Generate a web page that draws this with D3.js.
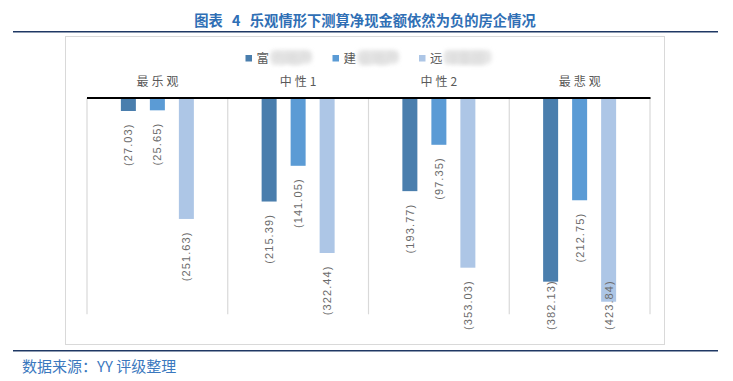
<!DOCTYPE html>
<html><head><meta charset="utf-8">
<script src="https://cdn.jsdelivr.net/npm/d3@7"></script>
<style>body{margin:0;background:#fff;}svg{display:block;}</style>
</head><body>
<svg id="c" width="733" height="381"></svg>
<script>
const title = "图表 4 乐观情形下测算净现金额依然为负的房企情况";
const source = "数据来源：YY 评级整理";
const categories = ["最乐观", "中性1", "中性2", "最悲观"];
const seriesNames = ["富力地产", "建业地产", "远洋集团"];
const seriesFu = [27.03, 215.39, 193.77, 382.13];
const seriesJian = [25.65, 141.05, 97.35, 212.75];
const seriesYuan = [251.63, 322.44, 353.03, 423.84];
const colors = ["#4a7ead", "#5b9bd5", "#adc6e6"];
const yDomain = [-450, 0];

const series = [seriesFu, seriesJian, seriesYuan];
const svg = d3.select("#c");
const cjk = "'Noto Sans CJK SC','Noto Sans',sans-serif";

// title
svg.append("text").attr("x", 365).attr("y", 26).attr("text-anchor", "middle")
  .attr("font-family", cjk).attr("font-size", 14.3).attr("font-weight", "bold")
  .attr("word-spacing", "6px").style("white-space", "pre")
  .attr("fill", "#2f6fb5").text(title);
svg.append("line").attr("x1", 13).attr("x2", 718).attr("y1", 31.7).attr("y2", 31.7)
  .attr("stroke", "#1f3864").attr("stroke-width", 1.5);
// chart box
svg.append("rect").attr("x", 65.5).attr("y", 36.5).attr("width", 599).attr("height", 308)
  .attr("fill", "#fff").attr("stroke", "#d9d9d9").attr("stroke-width", 1);
// bottom line & source
svg.append("line").attr("x1", 13).attr("x2", 718).attr("y1", 350.7).attr("y2", 350.7)
  .attr("stroke", "#1f3864").attr("stroke-width", 1.5);
svg.append("text").attr("x", 22).attr("y", 371.5)
  .attr("font-family", cjk).attr("font-size", 15).attr("fill", "#3a78be").text(source);

// scales
const x = d3.scaleBand().domain(categories).range([87, 650]).padding(0);
const bw = x.bandwidth();
const xs = d3.scaleBand().domain(d3.range(3))
  .range([bw / 2 - 43.5, bw / 2 + 43.5]).paddingInner(14 / 29).paddingOuter(7 / 29);
const y = d3.scaleLinear().domain(yDomain).range([314.3, 98]);

// separators
const seps = [...categories.map(c => x(c)), x.range()[1]];
svg.append("g").selectAll("line").data(seps).join("line")
  .attr("x1", d => d).attr("x2", d => d).attr("y1", y(0)).attr("y2", y(yDomain[0]))
  .attr("stroke", "#d9d9d9").attr("stroke-width", 1.2);

// category labels (axis at top)
const axis = d3.axisTop(x).tickSize(0).tickPadding(0);
const ag = svg.append("g").attr("transform", "translate(0,86)").call(axis);
ag.select(".domain").remove();
ag.selectAll("text").attr("font-family", cjk).attr("font-size", 12)
  .attr("fill", "#595959").attr("letter-spacing", "3px").attr("dy", 0)
  .attr("dx", 1.5);

// bars
const g = svg.append("g");
series.forEach((vals, si) => {
  const sg = g.append("g");
  sg.selectAll("rect").data(vals).join("rect")
    .attr("x", (d, i) => x(categories[i]) + xs(si))
    .attr("y", y(0))
    .attr("width", xs.bandwidth())
    .attr("height", d => y(-d) - y(0))
    .attr("fill", colors[si]);
  sg.selectAll("text").data(vals).join("text")
    .attr("font-family", "'Liberation Sans',Arial,sans-serif").attr("font-size", 11)
    .attr("letter-spacing", "1.1px").attr("fill", "#6b6b6b")
    .attr("text-anchor", "end")
    .text(d => "(" + d.toFixed(2) + ")")
    .each(function (d, i) {
      const len = this.getComputedTextLength();
      const top = Math.min(y(-d) + 12.5, 330 - len);
      const cx = x(categories[i]) + xs(si) + xs.bandwidth() / 2 + 4;
      d3.select(this).attr("transform", `translate(${cx},${top}) rotate(-90)`);
    });
});

// zero line
svg.append("line").attr("x1", 87).attr("x2", 650.5).attr("y1", y(0)).attr("y2", y(0))
  .attr("stroke", "#000").attr("stroke-width", 2);

// legend
const legX = [245.5, 332.5, 419];
const blobW = [42, 42, 48];
const lg = svg.append("g");
const defs = svg.append("defs");
defs.append("filter").attr("id", "blur").attr("x", "-30%").attr("y", "-80%")
  .attr("width", "160%").attr("height", "260%")
  .append("feGaussianBlur").attr("stdDeviation", 2.2);
seriesNames.forEach((n, i) => {
  lg.append("rect").attr("x", legX[i]).attr("y", 55).attr("width", 6.5).attr("height", 6.5)
    .attr("fill", colors[i]);
  const t = lg.append("text").attr("x", legX[i] + 11).attr("y", 63)
    .attr("font-family", cjk).attr("font-size", 12.5).attr("fill", "#595959").text(n[0]);
  const w = t.node().getComputedTextLength();
  const bx = legX[i] + 12 + w;
  lg.append("rect").attr("x", bx).attr("y", 50).attr("width", blobW[i]).attr("height", 14)
    .attr("rx", 5).attr("fill", "#e6e6e6").attr("filter", "url(#blur)");
  lg.append("text").attr("x", bx + 2).attr("y", 62.5)
    .attr("font-family", cjk).attr("font-size", 13).attr("font-weight", "bold")
    .attr("fill", "#dcdcdc").attr("filter", "url(#blur)").text(n.slice(1));
});
</script>
</body></html>
